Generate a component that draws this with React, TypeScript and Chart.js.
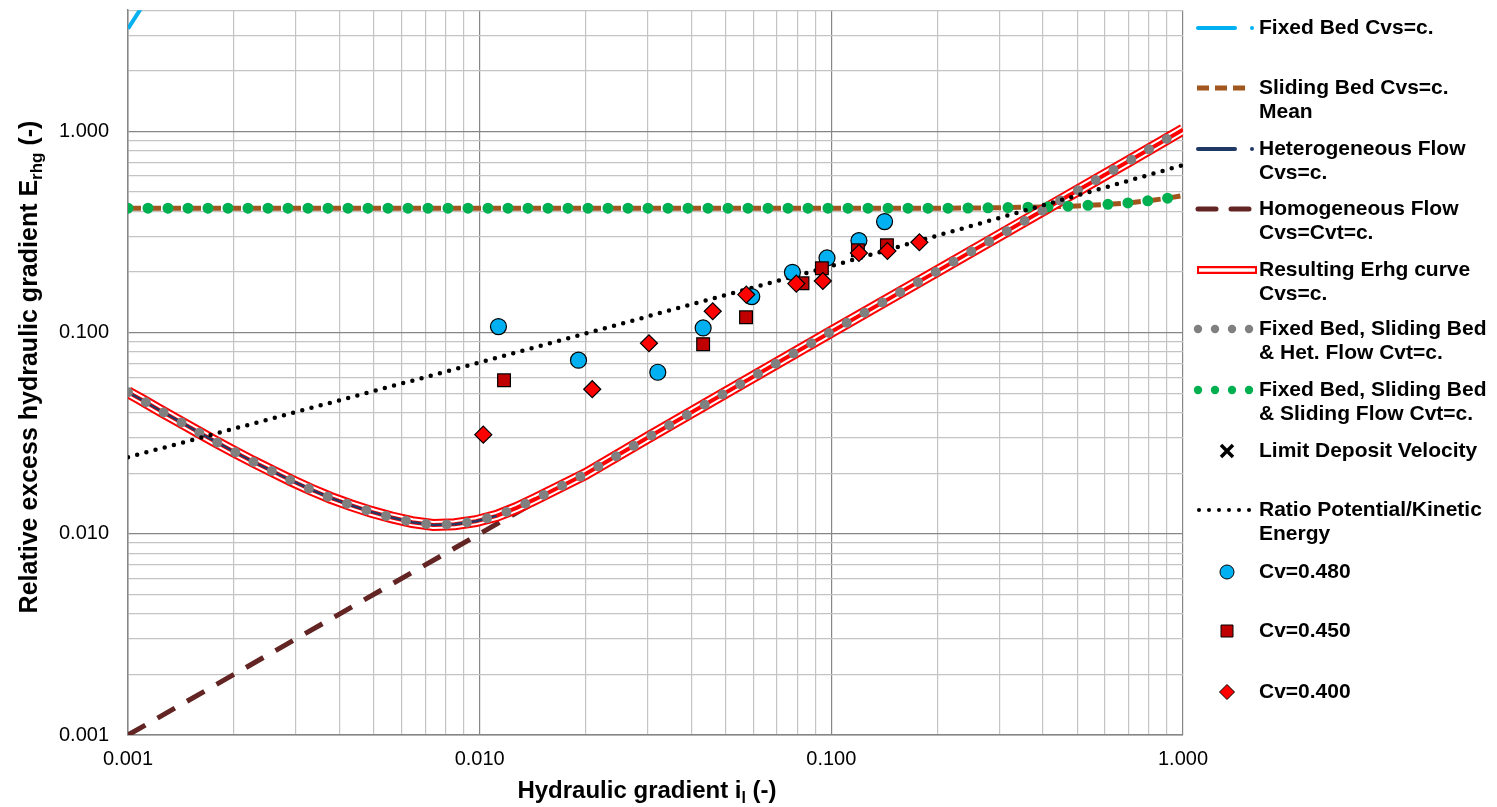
import { useEffect, useRef } from 'react';
import { Chart, registerables } from 'chart.js';

Chart.register(...registerables);

// ---------- grid / tick values ----------
const xGridValues = [
  0.001, 0.002, 0.003, 0.004, 0.005, 0.006, 0.007, 0.008, 0.009,
  0.01, 0.02, 0.03, 0.04, 0.05, 0.06, 0.07, 0.08, 0.09,
  0.1, 0.2, 0.3, 0.4, 0.5, 0.6, 0.7, 0.8, 0.9, 1,
];
const yGridValues = [
  0.001, 0.002, 0.003, 0.004, 0.005, 0.006, 0.007, 0.008, 0.009,
  0.01, 0.02, 0.03, 0.04, 0.05, 0.06, 0.07, 0.08, 0.09,
  0.1, 0.2, 0.3, 0.4, 0.5, 0.6, 0.7, 0.8, 0.9,
  1, 2, 3, 4,
];
const decadeValues = [0.001, 0.01, 0.1, 1];
const decadeLabels = ['0.001', '0.010', '0.100', '1.000'];

// ---------- series ----------
const fixedBedX = [0.001, 0.0011];
const fixedBedY = [3.24, 4.2];

const slidingBedX = [0.001, 0.01, 0.1, 0.2, 0.3, 0.4, 0.5, 0.6, 0.7, 0.8, 0.9, 1.0];
const slidingBedY = [0.415, 0.415, 0.415, 0.415, 0.417, 0.421, 0.426, 0.433, 0.441, 0.452, 0.465, 0.48];

const resultingX = [
  0.001, 0.00109, 0.00123, 0.00139, 0.00157, 0.00178, 0.00201, 0.00227, 0.00257, 0.00291,
  0.00331, 0.00377, 0.0043, 0.00492, 0.00563, 0.00643, 0.00738, 0.00849, 0.00976, 0.01117,
  0.01274, 0.01443, 0.02, 0.03, 0.05, 0.1, 0.2, 0.4, 0.7, 1.0,
];
const resultingY = [
  0.0505, 0.0465, 0.0411, 0.0365, 0.0323, 0.0286, 0.0255, 0.0228, 0.0205, 0.0184,
  0.0166, 0.01508, 0.01387, 0.01285, 0.01205, 0.01142, 0.01107, 0.01116, 0.01155, 0.01227,
  0.01345, 0.0149, 0.0198, 0.03, 0.0502, 0.101, 0.202, 0.405, 0.71, 1.02,
];

const heterogeneousX = [
  0.001, 0.00109, 0.00123, 0.00139, 0.00157, 0.00178, 0.00201, 0.00227, 0.00257, 0.00291,
  0.00331, 0.00377, 0.0043, 0.00492, 0.00563, 0.00643, 0.00738, 0.00849, 0.00976, 0.01117,
];
const heterogeneousY = [
  0.0505, 0.0465, 0.0411, 0.0365, 0.0323, 0.0286, 0.0255, 0.0228, 0.0205, 0.0184,
  0.0166, 0.01508, 0.01387, 0.01285, 0.01205, 0.01142, 0.01107, 0.01116, 0.01155, 0.01227,
];

const homogeneousX = [0.001, 1.0];
const homogeneousY = [0.001, 1.0];

const ratioX = [0.001, 0.01, 0.1, 1.0];
const ratioY = [0.024, 0.071, 0.214, 0.68];

const cv480X = [0.01131, 0.0191, 0.0321, 0.0432, 0.0594, 0.0775, 0.0972, 0.1198, 0.1417];
const cv480Y = [0.1071, 0.0729, 0.0635, 0.1054, 0.151, 0.1993, 0.2348, 0.2864, 0.356];

const cv450X = [0.01173, 0.0432, 0.0572, 0.0828, 0.094, 0.119, 0.1439];
const cv450Y = [0.0579, 0.0875, 0.1191, 0.1757, 0.2087, 0.2563, 0.2714];

const cv400X = [0.01024, 0.0209, 0.0303, 0.046, 0.0573, 0.0795, 0.0946, 0.1198, 0.1444, 0.178];
const cv400Y = [0.0311, 0.0523, 0.0885, 0.1276, 0.1544, 0.1751, 0.1805, 0.2485, 0.2543, 0.281];

// ---------- helpers ----------
const pts = (xs: number[], ys: number[]) => xs.map((x, i) => ({ x, y: ys[i] }));
const FONT = '"Liberation Sans", Arial, sans-serif';

const isDecade = (v: number) => decadeValues.some((d) => Math.abs(v / d - 1) < 1e-6);
const labelFor = (v: number) => {
  const i = decadeValues.findIndex((d) => Math.abs(v / d - 1) < 1e-6);
  return i >= 0 ? decadeLabels[i] : '';
};

const legendPlugin = {
  id: 'customLegend',
  afterDraw(chart: any) {
    const ctx = chart.ctx as CanvasRenderingContext2D;
    ctx.save();
    const tx = 1259;
    const lh = 24.5;
    const text = (y: number, lines: string[]) => {
      ctx.fillStyle = '#000';
      ctx.font = `bold 21px ${FONT}`;
      ctx.textBaseline = 'middle';
      ctx.textAlign = 'left';
      lines.forEach((l, i) => ctx.fillText(l, tx, y + i * lh));
    };
    const line = (y: number, color: string, w: number, dash: number[], x0 = 1198, x1 = 1235, cap: CanvasLineCap = 'butt') => {
      ctx.beginPath();
      ctx.setLineDash(dash);
      ctx.lineCap = cap;
      ctx.strokeStyle = color;
      ctx.lineWidth = w;
      ctx.moveTo(x0, y);
      ctx.lineTo(x1, y);
      ctx.stroke();
      ctx.setLineDash([]);
    };
    const dot = (x: number, y: number, r: number, color: string) => {
      ctx.beginPath();
      ctx.fillStyle = color;
      ctx.arc(x, y, r, 0, Math.PI * 2);
      ctx.fill();
    };

    // 1 Fixed bed
    line(28, '#00b0f0', 4, [], 1198, 1235, 'round');
    dot(1252, 28, 2, '#00b0f0');
    text(28, ['Fixed Bed Cvs=c.']);
    // 2 Sliding bed
    line(88, '#a0561c', 5, [12, 6], 1197, 1250);
    text(88, ['Sliding Bed Cvs=c.', 'Mean']);
    // 3 Heterogeneous
    line(149, '#1f3864', 4, [], 1198, 1235, 'round');
    dot(1252, 149, 2, '#1f3864');
    text(149, ['Heterogeneous Flow', 'Cvs=c.']);
    // 4 Homogeneous
    line(209, '#632523', 5, [18, 15], 1198, 1251, 'round');
    text(209, ['Homogeneous Flow', 'Cvs=Cvt=c.']);
    // 5 Resulting
    line(270, '#ff0000', 8, [], 1197, 1257);
    line(270, '#ffffff', 3.5, [], 1199, 1255);
    text(270, ['Resulting Erhg curve', 'Cvs=c.']);
    // 6 grey dots
    [1198, 1215, 1232, 1249].forEach((x) => dot(x, 329, 4.2, '#808080'));
    text(329, ['Fixed Bed, Sliding Bed', '& Het. Flow Cvt=c.']);
    // 7 green dots
    [1198, 1215, 1232, 1249].forEach((x) => dot(x, 390, 4.2, '#00b050'));
    text(390, ['Fixed Bed, Sliding Bed', '& Sliding Flow Cvt=c.']);
    // 8 limit deposit velocity
    ctx.beginPath();
    ctx.strokeStyle = '#000';
    ctx.lineWidth = 3.5;
    ctx.lineCap = 'butt';
    ctx.moveTo(1221, 445); ctx.lineTo(1233, 457);
    ctx.moveTo(1233, 445); ctx.lineTo(1221, 457);
    ctx.stroke();
    text(451, ['Limit Deposit Velocity']);
    // 9 ratio
    [1199, 1209, 1219, 1229, 1239, 1249].forEach((x) => dot(x, 510, 2, '#000'));
    text(510, ['Ratio Potential/Kinetic', 'Energy']);
    // 10 circle
    ctx.beginPath();
    ctx.arc(1227, 572, 7, 0, Math.PI * 2);
    ctx.fillStyle = '#00b0f0';
    ctx.fill();
    ctx.lineWidth = 1;
    ctx.strokeStyle = '#000';
    ctx.stroke();
    text(572, ['Cv=0.480']);
    // 11 square
    ctx.beginPath();
    ctx.rect(1221, 625, 12, 12);
    ctx.fillStyle = '#c00000';
    ctx.fill();
    ctx.stroke();
    text(631, ['Cv=0.450']);
    // 12 diamond
    ctx.beginPath();
    ctx.moveTo(1227, 684.5); ctx.lineTo(1234.5, 692); ctx.lineTo(1227, 699.5); ctx.lineTo(1219.5, 692);
    ctx.closePath();
    ctx.fillStyle = '#ff0000';
    ctx.fill();
    ctx.stroke();
    text(692, ['Cv=0.400']);

    // ----- axis titles -----
    ctx.fillStyle = '#000';
    ctx.textBaseline = 'alphabetic';
    // x title
    const xMain = 'Hydraulic gradient i';
    const xSub = 'l';
    const xEnd = ' (-)';
    ctx.font = `bold 24px ${FONT}`;
    const w1 = ctx.measureText(xMain).width;
    const w3 = ctx.measureText(xEnd).width;
    ctx.font = `bold 16px ${FONT}`;
    const w2 = ctx.measureText(xSub).width;
    const totalX = w1 + w2 + w3;
    const cx = 647;
    const sx = cx - totalX / 2;
    const by = 798;
    ctx.textAlign = 'left';
    ctx.font = `bold 24px ${FONT}`;
    ctx.fillText(xMain, sx, by);
    ctx.font = `bold 16px ${FONT}`;
    ctx.fillText(xSub, sx + w1, by + 5);
    ctx.font = `bold 24px ${FONT}`;
    ctx.fillText(xEnd, sx + w1 + w2, by);

    // y title
    const yMain = 'Relative excess hydraulic gradient E';
    const ySub = 'rhg';
    const yEnd = ' (-)';
    ctx.font = `bold 25px ${FONT}`;
    const v1 = ctx.measureText(yMain).width;
    const v3 = ctx.measureText(yEnd).width;
    ctx.font = `bold 17px ${FONT}`;
    const v2 = ctx.measureText(ySub).width;
    const totalY = v1 + v2 + v3;
    ctx.save();
    ctx.translate(37, 367);
    ctx.rotate(-Math.PI / 2);
    const s = -totalY / 2;
    ctx.font = `bold 25px ${FONT}`;
    ctx.fillText(yMain, s, 0);
    ctx.font = `bold 17px ${FONT}`;
    ctx.fillText(ySub, s + v1, 5);
    ctx.font = `bold 25px ${FONT}`;
    ctx.fillText(yEnd, s + v1 + v2, 0);
    ctx.restore();

    ctx.restore();
  },
};

export default function App() {
  const ref = useRef<HTMLCanvasElement | null>(null);

  useEffect(() => {
    document.body.style.margin = '0';
    const canvas = ref.current;
    if (!canvas) return;
    const lineBase = { showLine: true, pointRadius: 0, pointHoverRadius: 0, fill: false, tension: 0, clip: 0 };

    const chart = new Chart(canvas, {
      type: 'scatter',
      data: {
        datasets: [
          { ...lineBase, label: 'Fixed Bed Cvs=c.', data: pts(fixedBedX, fixedBedY), borderColor: '#00b0f0', borderWidth: 4, order: 20 },
          { ...lineBase, label: 'Sliding Bed Cvs=c. Mean', data: pts(slidingBedX, slidingBedY), borderColor: '#a0561c', borderWidth: 5, borderDash: [13, 7], order: 19 },
          { ...lineBase, label: 'Homogeneous Flow Cvs=Cvt=c.', data: pts(homogeneousX, homogeneousY), borderColor: '#632523', borderWidth: 5, borderDash: [20, 14], order: 18 },
          { ...lineBase, label: 'Resulting outer', data: pts(resultingX, resultingY), borderColor: '#ff0000', borderWidth: 12, order: 17 },
          { ...lineBase, label: 'Resulting inner', data: pts(resultingX, resultingY), borderColor: '#ffffff', borderWidth: 8, order: 16 },
          { ...lineBase, label: 'Resulting Erhg curve Cvs=c.', data: pts(resultingX, resultingY), borderColor: '#ff0000', borderWidth: 4, order: 15 },
          { ...lineBase, label: 'Heterogeneous Flow Cvs=c.', data: pts(heterogeneousX, heterogeneousY), borderColor: '#1f3864', borderWidth: 2.5, order: 14 },
          { ...lineBase, label: 'Fixed Bed, Sliding Bed & Sliding Flow Cvt=c.', data: pts(slidingBedX, slidingBedY), borderColor: '#00b050', borderWidth: 11, borderDash: [0, 20], borderCapStyle: 'round', order: 13 },
          { ...lineBase, label: 'Fixed Bed, Sliding Bed & Het. Flow Cvt=c.', data: pts(resultingX, resultingY), borderColor: '#808080', borderWidth: 10, borderDash: [0, 20.5], borderCapStyle: 'round', order: 12 },
          { ...lineBase, label: 'Ratio Potential/Kinetic Energy', data: pts(ratioX, ratioY), borderColor: '#000000', borderWidth: 4.5, borderDash: [0, 9.5], borderCapStyle: 'round', order: 11 },
          { label: 'Cv=0.480', data: pts(cv480X, cv480Y), pointStyle: 'circle', pointRadius: 8, backgroundColor: '#00b0f0', borderColor: '#000', borderWidth: 1.2, order: 3 },
          { label: 'Cv=0.450', data: pts(cv450X, cv450Y), pointStyle: 'rect', pointRadius: 9, backgroundColor: '#c00000', borderColor: '#000', borderWidth: 1.2, order: 2 },
          { label: 'Cv=0.400', data: pts(cv400X, cv400Y), pointStyle: 'rectRot', pointRadius: 8.5, backgroundColor: '#ff0000', borderColor: '#000', borderWidth: 1.2, order: 1 },
        ] as any,
      },
      options: {
        animation: false,
        responsive: false,
        maintainAspectRatio: false,
        events: [],
        layout: { padding: { top: 10, right: 314, left: 0, bottom: 0 } },
        plugins: { legend: { display: false }, tooltip: { enabled: false }, title: { display: false } },
        scales: {
          x: {
            type: 'logarithmic',
            min: 0.001,
            max: 1,
            afterBuildTicks: (scale: any) => { scale.ticks = xGridValues.map((v) => ({ value: v })); },
            afterFit: (scale: any) => {
              scale.height = 72;
              scale.paddingLeft = 0;
              scale.paddingRight = 0;
              scale.paddingTop = 0;
              scale.paddingBottom = 0;
            },
            ticks: {
              autoSkip: false,
              maxRotation: 0,
              padding: 12,
              color: '#000',
              font: { family: FONT, size: 20 },
              callback: (v: any) => labelFor(Number(v)),
            },
            grid: {
              drawTicks: false,
              color: (c: any) => (c.tick && isDecade(c.tick.value) ? '#868686' : '#c4c4c4'),
              lineWidth: 1.2,
            },
            border: { display: true, color: '#868686', width: 1.5 },
          },
          y: {
            type: 'logarithmic',
            min: 0.001,
            max: 4,
            afterBuildTicks: (scale: any) => { scale.ticks = yGridValues.map((v) => ({ value: v })); },
            afterFit: (scale: any) => {
              scale.width = 128;
              scale.paddingLeft = 0;
              scale.paddingRight = 0;
              scale.paddingTop = 0;
              scale.paddingBottom = 0;
            },
            ticks: {
              autoSkip: false,
              padding: 19,
              color: '#000',
              font: { family: FONT, size: 20 },
              callback: (v: any) => labelFor(Number(v)),
            },
            grid: {
              drawTicks: false,
              color: (c: any) => (c.tick && isDecade(c.tick.value) ? '#868686' : '#c4c4c4'),
              lineWidth: 1.2,
            },
            border: { display: true, color: '#868686', width: 1.5 },
          },
        },
      } as any,
      plugins: [legendPlugin],
    });
    return () => chart.destroy();
  }, []);

  return (
    <div style={{ position: 'absolute', left: 0, top: 0, width: 1497, height: 807, background: '#fff' }}>
      <canvas ref={ref} width={1497} height={807} style={{ display: 'block', width: 1497, height: 807 }} />
    </div>
  );
}
